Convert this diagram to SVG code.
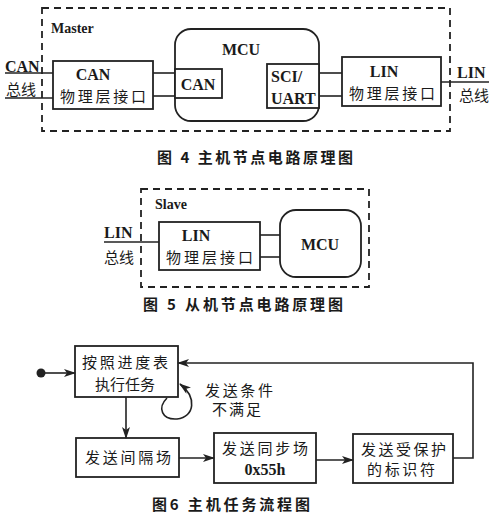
<svg xmlns="http://www.w3.org/2000/svg" width="500" height="521" viewBox="0 0 500 521">
<defs>
<style>
.bg{fill:#fff}
.box{fill:#fff;stroke:#222;stroke-width:1.8}
.dash{fill:none;stroke:#222;stroke-width:1.8;stroke-dasharray:7 5}
.ln{fill:none;stroke:#222;stroke-width:1.6}
.lat{font-family:"Liberation Serif",serif;font-weight:bold;font-size:16px;fill:#1a1a1a}
.cjk{font-family:"Noto Sans CJK SC",sans-serif;font-size:15px;fill:#1a1a1a}
.cap{font-family:"Noto Sans CJK SC",sans-serif;font-weight:bold;font-size:15px;fill:#1a1a1a}
</style>
<marker id="ah" markerWidth="12" markerHeight="8" refX="11" refY="4" orient="auto" markerUnits="userSpaceOnUse">
<path d="M0,0 L12,4 L0,8 L3,4 Z" fill="#222"/>
</marker>
</defs>
<rect class="bg" x="0" y="0" width="500" height="521"/>

<!-- Figure 4 -->
<g id="fig4-master">
<rect class="dash" x="42" y="8" width="408" height="123"/>
<text class="lat" x="51" y="33" style="font-size:14px">Master</text>
</g>
<g id="fig4-can-bus">
<text class="lat" x="5" y="72">CAN</text>
<text class="cjk" x="6" y="95">总线</text>
</g>
<g id="fig4-can-phy">
<rect class="box" x="53" y="61" width="100" height="48"/>
<text class="lat" x="93" y="80" text-anchor="middle">CAN</text>
<text class="cjk" x="60" y="102" textLength="86" lengthAdjust="spacing">物理层接口</text>
</g>
<g id="fig4-mcu">
<rect class="box" x="175" y="29" width="144" height="92" rx="16"/>
<text class="lat" x="241" y="55" text-anchor="middle">MCU</text>
</g>
<g id="fig4-mcu-can">
<rect class="box" x="175" y="69" width="47" height="29"/>
<text class="lat" x="198" y="90" text-anchor="middle">CAN</text>
</g>
<g id="fig4-sci">
<rect class="box" x="267" y="64" width="52" height="44"/>
<text class="lat" x="271" y="82">SCI/</text>
<text class="lat" x="271" y="104">UART</text>
</g>
<g id="fig4-lin-phy">
<rect class="box" x="342" y="57" width="99" height="49"/>
<text class="lat" x="384" y="77" text-anchor="middle">LIN</text>
<text class="cjk" x="349" y="99" textLength="86" lengthAdjust="spacing">物理层接口</text>
</g>
<g id="fig4-lin-bus">
<text class="lat" x="457" y="78">LIN</text>
<text class="cjk" x="459" y="101">总线</text>
</g>
<g id="fig4-caption">
<text class="cap" x="157" y="163" textLength="196" lengthAdjust="spacing">图 4 主机节点电路原理图</text>
</g>

<!-- Figure 5 -->
<g id="fig5-slave">
<rect class="dash" x="141" y="189" width="228" height="98"/>
<text class="lat" x="155" y="209" style="font-size:14px">Slave</text>
</g>
<g id="fig5-lin-bus">
<text class="lat" x="104" y="238">LIN</text>
<text class="cjk" x="104" y="263">总线</text>
</g>
<g id="fig5-lin-phy">
<rect class="box" x="159" y="222" width="101" height="48"/>
<text class="lat" x="196" y="241" text-anchor="middle">LIN</text>
<text class="cjk" x="166" y="263" textLength="87" lengthAdjust="spacing">物理层接口</text>
</g>
<g id="fig5-mcu">
<rect class="box" x="280" y="210" width="81" height="67" rx="16"/>
<text class="lat" x="320" y="250" text-anchor="middle">MCU</text>
</g>
<g id="fig5-caption">
<text class="cap" x="143" y="310" textLength="200" lengthAdjust="spacing">图 5 从机节点电路原理图</text>
</g>

<!-- Figure 6 -->
<g id="fig6-start">
<circle cx="41" cy="373" r="4.5" fill="#222"/>
</g>
<g id="fig6-schedule">
<rect class="box" x="75" y="346" width="103" height="51"/>
<text class="cjk" x="82" y="368" textLength="86" lengthAdjust="spacing">按照进度表</text>
<text class="cjk" x="95" y="390" textLength="60" lengthAdjust="spacing">执行任务</text>
</g>
<g id="fig6-cond">
<text class="cjk" x="205" y="396" textLength="68" lengthAdjust="spacing">发送条件</text>
<text class="cjk" x="212" y="415" textLength="49" lengthAdjust="spacing">不满足</text>
</g>
<g id="fig6-break">
<rect class="box" x="76" y="438" width="103" height="39"/>
<text class="cjk" x="85" y="463" textLength="86" lengthAdjust="spacing">发送间隔场</text>
</g>
<g id="fig6-sync">
<rect class="box" x="214" y="433" width="102" height="50"/>
<text class="cjk" x="222" y="454" textLength="86" lengthAdjust="spacing">发送同步场</text>
<text class="lat" x="265" y="475" text-anchor="middle">0x55h</text>
</g>
<g id="fig6-pid">
<rect class="box" x="353" y="434" width="100" height="49"/>
<text class="cjk" x="361" y="455" textLength="85" lengthAdjust="spacing">发送受保护</text>
<text class="cjk" x="367" y="475" textLength="68" lengthAdjust="spacing">的标识符</text>
</g>
<g id="fig6-caption">
<text class="cap" x="152" y="510" textLength="158" lengthAdjust="spacing">图6 主机任务流程图</text>
</g>

<!-- Connectors -->
<g id="connectors">
<!-- fig 4 -->
<line class="ln" x1="5" y1="73" x2="53" y2="73"/>
<line class="ln" x1="5" y1="98" x2="53" y2="98"/>
<line class="ln" x1="153" y1="73" x2="175" y2="73"/>
<line class="ln" x1="153" y1="96" x2="175" y2="96"/>
<line class="ln" x1="319" y1="73" x2="342" y2="73"/>
<line class="ln" x1="319" y1="96" x2="342" y2="96"/>
<line class="ln" x1="441" y1="82" x2="489" y2="82"/>
<!-- fig 5 -->
<line class="ln" x1="104" y1="242" x2="159" y2="242"/>
<line class="ln" x1="260" y1="235" x2="280" y2="235"/>
<line class="ln" x1="260" y1="257" x2="280" y2="257"/>
<!-- fig 6 -->
<line class="ln" x1="45" y1="373" x2="75" y2="373" marker-end="url(#ah)"/>
<path class="ln" d="M167,398 C157,408 162,420 177,419 C195,417 197,397 180,384" marker-end="url(#ah)"/>
<line class="ln" x1="126" y1="397" x2="126" y2="438" marker-end="url(#ah)"/>
<line class="ln" x1="179" y1="458" x2="214" y2="458" marker-end="url(#ah)"/>
<line class="ln" x1="316" y1="460" x2="353" y2="460" marker-end="url(#ah)"/>
<polyline class="ln" points="453,458 473,458 473,363 178,363" marker-end="url(#ah)"/>
</g>
</svg>
